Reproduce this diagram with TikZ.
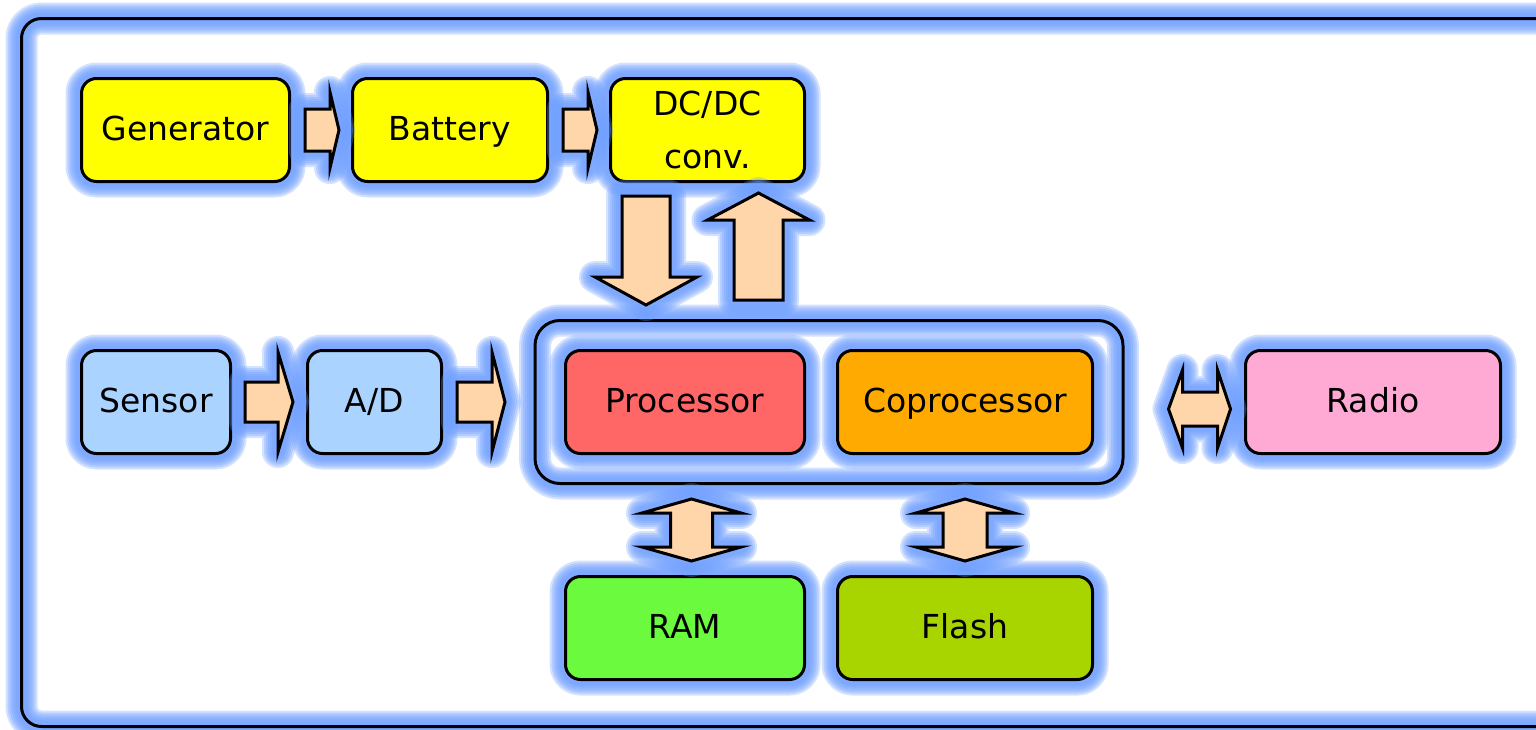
\documentclass[tikz,border=0pt]{standalone}
\usepackage{fontspec}
\setmainfont{DejaVu Sans}
\usepackage{xcolor}
\usepackage{tikz}
\usetikzlibrary{fit, calc}

\definecolor{glowblue}{HTML}{6E9EFF}
\definecolor{powerfill}{HTML}{FFFF00}
\definecolor{sensefill}{HTML}{AAD4FF}
\definecolor{procfill}{HTML}{FF6666}
\definecolor{copfill}{HTML}{FFAA00}
\definecolor{radiofill}{HTML}{FFAAD4}
\definecolor{ramfill}{HTML}{6CFA3F}
\definecolor{flashfill}{HTML}{A8D400}
\definecolor{arrowfill}{HTML}{FFD5AA}

\begin{document}
\begin{tikzpicture}[x=1pt, y=-1pt,
    halo/.style={preaction={draw=glowblue, line join=round, line width=#1, opacity=0.3}},
    glow/.style={halo=32pt, halo=28pt, halo=24pt, halo=20pt, halo=16pt, halo=12pt},
    block/.style={rectangle, draw, line width=3pt, rounded corners=15pt, minimum height=103pt, align=center,
        font=\fontsize{33pt}{53pt}\selectfont, execute at begin node=\strut, glow},
    fatarrow/.style={draw, line width=3pt, fill=arrowfill, line join=miter, glow},
    frame/.style={rectangle, draw, line width=3pt, rounded corners=20pt, glow},
]
    \useasboundingbox (0,0) rectangle (1536,729);

    % Board outline
    \node[frame, minimum width=1538.5pt, minimum height=708pt] at (790.75,372.5) (board) {};

    % Power chain
    \node[block, fill=powerfill, minimum width=208pt] at (185.5,130) (gen) {Generator};
    \node[block, fill=powerfill, minimum width=195pt] at (450,130) (bat) {Battery};
    \node[block, fill=powerfill, minimum width=194pt, execute at begin node={}, text depth=0pt] at (707.5,130) (dcdc) {DC/DC\\conv.};

    % Sensing
    \node[block, fill=sensefill, minimum width=149pt] at (156,402) (sensor) {Sensor};
    \node[block, fill=sensefill, minimum width=134pt] at (374.5,402) (ad) {A/D};

    % Processing
    \node[block, fill=procfill, minimum width=239pt] at (685,402) (proc) {Processor};
    \node[block, fill=copfill, minimum width=255pt] at (965,402) (coproc) {Coprocessor};
    \node[frame, rounded corners=25pt, fit=(proc)(coproc), inner xsep=29pt, inner ysep=28.5pt] (cpu) {};

    % Radio and memory
    \node[block, fill=radiofill, minimum width=255pt] at (1373,402) (radio) {Radio};
    \node[block, fill=ramfill, minimum width=239pt] at (685,628) (ram) {RAM};
    \node[block, fill=flashfill, minimum width=255pt] at (965,628) (flash) {Flash};

    % Arrows
    \draw[fatarrow] ([xshift=14pt]gen.east) ++(0,-21) -- ++(25,0) -- ++(0,-17) -- ++(9,38) -- ++(-9,38) -- ++(0,-17) -- ++(-25,0) -- cycle;
    \draw[fatarrow] ([xshift=14pt]bat.east) ++(0,-21) -- ++(25,0) -- ++(0,-17) -- ++(9,38) -- ++(-9,38) -- ++(0,-17) -- ++(-25,0) -- cycle;
    \draw[fatarrow] ([xshift=13pt]sensor.east) ++(0,-20) -- ++(33,0) -- ++(0,-30) -- ++(15,50) -- ++(-15,50) -- ++(0,-30) -- ++(-33,0) -- cycle;
    \draw[fatarrow] ([xshift=14pt]ad.east) ++(0,-20) -- ++(35,0) -- ++(0,-30) -- ++(13,50) -- ++(-13,50) -- ++(0,-30) -- ++(-35,0) -- cycle;

    \draw[fatarrow] ([xshift=-61.5pt, yshift=-13pt]dcdc.south) -- ++(-24,0) -- ++(0,81) -- ++(-27,0) -- ++(51,28) -- ++(51,-28) -- ++(-27,0) -- ++(0,-81) -- cycle;
    \draw[fatarrow] ([xshift=-70.5pt, yshift=19pt]cpu.north) -- ++(-24.5,0) -- ++(0,-80) -- ++(-26.5,0) -- ++(51,-27) -- ++(51,27) -- ++(-26.5,0) -- ++(0,80) -- cycle;

    \draw[fatarrow] ([xshift=44pt, yshift=-7pt]cpu.east) -- ++(14,-39) -- ++(0,22) -- ++(35,0) -- ++(0,-22) -- ++(13,39) -- ++(-13,39) -- ++(0,-22) -- ++(-35,0) -- ++(0,22) -- cycle;

    \draw[fatarrow] ($(proc.center |- cpu.south)+(6.5,14)$) -- ++(-49.5,14) -- ++(28.5,0) -- ++(0,34) -- ++(-28.5,0) -- ++(49.5,14) -- ++(49.5,-14) -- ++(-28.5,0) -- ++(0,-34) -- ++(28.5,0) -- cycle;
    \draw[fatarrow] ($(coproc.center |- cpu.south)+(0,14)$) -- ++(-49,14) -- ++(27,0) -- ++(0,34) -- ++(-27,0) -- ++(49,14) -- ++(49,-14) -- ++(-27,0) -- ++(0,-34) -- ++(27,0) -- cycle;

\end{tikzpicture}
\end{document}
